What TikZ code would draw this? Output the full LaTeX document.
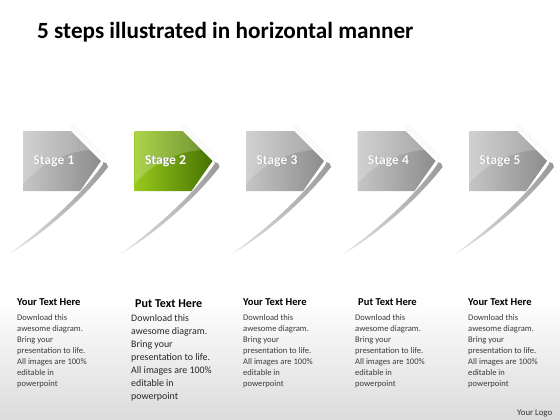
\documentclass[tikz,border=0pt]{standalone}
\usepackage{fontspec}
\setmainfont{Carlito}

\definecolor{greenlight}{RGB}{152,202,30}
\definecolor{greendark}{RGB}{70,114,0}
\definecolor{bodygray}{RGB}{60,60,60}

\newcommand{\stageblurb}{\begin{tabular}[t]{@{}l@{}}Download this\\awesome diagram.\\Bring your\\
  presentation to life.\\All images are 100\%\\editable in\\powerpoint\end{tabular}}

\tikzset{
  stagelbl/.style={text=white, inner sep=0pt, font=\bfseries\fontsize{11.6}{14}\selectfont},
  headtxt/.style={anchor=base west, inner sep=0pt, font=\bfseries\fontsize{9}{11}\selectfont},
  bodytxt/.style={anchor=base west, inner sep=0pt, text=bodygray,
    font=\fontsize{7.3}{9.5}\selectfont},
  bodybig/.style={bodytxt, text=black!85, font=\fontsize{8.45}{11.1}\selectfont}
}

\begin{document}
\begin{tikzpicture}[x=0.03cm, y=-0.03cm]

    % Background, white fading to light gray at the bottom
    \fill[white] (0,0) rectangle (560,420);
    \shade[top color=white, bottom color=gray!28] (0,300) rectangle (560,420);
    \useasboundingbox (0,0) rectangle (560,420);

    % Title
    \node[anchor=base west, inner sep=0pt, font=\bfseries\fontsize{19.8}{24}\selectfont]
      (title) at (37,38) {5 steps illustrated in horizontal manner};

    % Draw the five stage boxes with their slivers
    \foreach \n/\L/\lc/\rc in {1/23/gray!45/gray!90, 2/134.5/greenlight/greendark,
        3/246/gray!45/gray!90, 4/357.5/gray!45/gray!90, 5/469/gray!45/gray!90} {
      % faint glow above the tip
      \fill[gray!4] (\L+50,124) -- (\L+84,157) -- (\L+81,160) -- (\L+46,126) -- cycle;
      % sliver under the tip
      \shade[left color=gray!20, right color=gray!80]
        (\L+80,162) .. controls (\L+83,162) and (\L+85,164) .. (\L+85,167)
        .. controls (\L+62,197) and (\L+22,233) .. (\L-14,254)
        .. controls (\L+20,229) and (\L+58,196) .. (\L+80,164) -- cycle;
      % the box itself
      \shade[left color=\lc, right color=\rc]
        (\L,131) -- (\L+48,131) -- (\L+78,161) -- (\L+57,191) -- (\L,191) -- cycle;
      % gloss on the upper part
      \begin{scope}
        \clip (\L,131) -- (\L+48,131) -- (\L+78,161) -- (\L+57,191) -- (\L,191) -- cycle;
        \fill[white, opacity=0.2] (\L-2,129) -- (\L+80,129) -- (\L+80,150)
          .. controls (\L+50,148) and (\L+20,160) .. (\L-2,186) -- cycle;
      \end{scope}
      % label with a soft shadow
      \node[stagelbl, text=black!50] (shd\n) at (\L+31.5,161.6) {Stage \n};
      \node[stagelbl] (lbl\n) at (\L+31,161) {Stage \n};
    }

    % Text under each stage
    \node[headtxt] (head1) at (17,305.5) {Your Text Here};
    \node[bodytxt] (body1) at (17,320) {\stageblurb};

    \node[headtxt, font=\bfseries\fontsize{10.3}{12}\selectfont] (head2) at (135,307) {Put Text Here};
    \node[bodybig] (body2) at (131,321.5) {\stageblurb};

    \node[headtxt] (head3) at (243,305) {Your Text Here};
    \node[bodytxt] (body3) at (243,320) {\stageblurb};

    \node[headtxt] (head4) at (358,305) {Put Text Here};
    \node[bodytxt] (body4) at (355,320) {\stageblurb};

    \node[headtxt] (head5) at (468,305) {Your Text Here};
    \node[bodytxt] (body5) at (468,320) {\stageblurb};

    % Logo placeholder
    \node[anchor=base west, inner sep=0pt, font=\fontsize{7.5}{9}\selectfont, text=black!80]
      (logo) at (517,415) {Your Logo};

\end{tikzpicture}
\end{document}
